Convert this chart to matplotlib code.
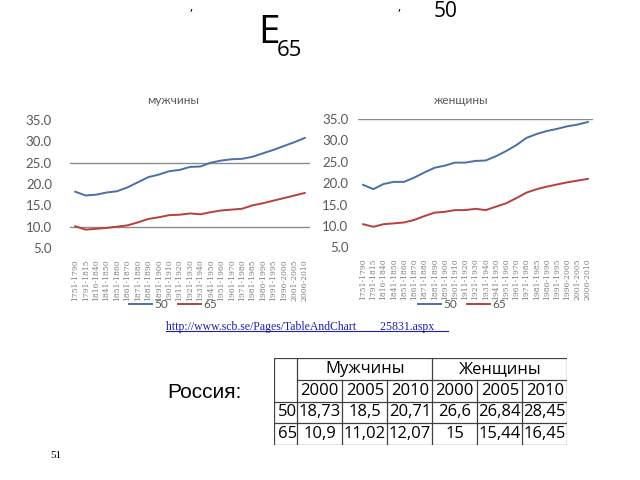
import matplotlib
matplotlib.use('Agg')
import matplotlib.pyplot as plt
from matplotlib.lines import Line2D

plt.rcParams['font.family'] = ['Lato', 'Open Sans', 'DejaVu Sans']

periods = ['1751-1790', '1791-1815', '1816-1840', '1841-1850', '1851-1860',
           '1861-1870', '1871-1880', '1881-1890', '1891-1900', '1901-1910',
           '1911-1920', '1921-1930', '1931-1940', '1941-1950', '1951-1960',
           '1961-1970', '1971-1980', '1981-1985', '1986-1990', '1991-1995',
           '1996-2000', '2001-2005', '2006-2010']

men_50 = [18.2, 17.3, 17.5, 18.0, 18.3, 19.2, 20.4, 21.6, 22.2, 23.0, 23.3, 24.0,
          24.1, 25.0, 25.5, 25.8, 25.9, 26.4, 27.2, 28.0, 28.9, 29.8, 30.8]
men_65 = [10.1, 9.3, 9.5, 9.7, 10.0, 10.3, 11.0, 11.8, 12.2, 12.7, 12.8, 13.1,
          12.9, 13.4, 13.8, 14.0, 14.2, 15.0, 15.5, 16.1, 16.7, 17.3, 17.9]
women_50 = [19.6, 18.6, 19.8, 20.3, 20.3, 21.3, 22.5, 23.6, 24.1, 24.8, 24.8, 25.2,
            25.3, 26.3, 27.5, 28.9, 30.6, 31.5, 32.2, 32.7, 33.3, 33.7, 34.3]
women_65 = [10.4, 9.8, 10.4, 10.6, 10.8, 11.4, 12.3, 13.1, 13.3, 13.7, 13.7, 14.0,
            13.7, 14.5, 15.3, 16.5, 17.8, 18.6, 19.2, 19.7, 20.2, 20.6, 21.0]

# Russia table
ru_groups = ['Мужчины', 'Женщины']
ru_years = ['2000', '2005', '2010', '2000', '2005', '2010']
ru_ages = ['50', '65']
ru_vals = [['18,73', '18,5', '20,71', '26,6', '26,84', '28,45'],
           ['10,9', '11,02', '12,07', '15', '15,44', '16,45']]

url = 'http://www.scb.se/Pages/TableAndChart        25831.aspx'

W, H = 640, 480
BLUE = '#4A6FA8'
RED = '#B5403F'
GRAY = '#595959'


def fx(x):
    return x / W


def fy(y):
    return 1 - y / H


fig = plt.figure(figsize=(6.4, 4.8), dpi=100)

# title fragments (the first title line is cut off in the slide)
fig.text(fx(258), fy(43), 'E', fontsize=28, family='Open Sans', va='baseline')
fig.text(fx(277), fy(56), '65', fontsize=16, family='Open Sans', va='baseline')
fig.text(fx(434), fy(1), '50', fontsize=15, family='Open Sans', va='top')
fig.text(fx(189), fy(0), ',', fontsize=9, family='Open Sans', va='top')
fig.text(fx(397), fy(0), ',', fontsize=9, family='Open Sans', va='top')


def draw_chart(rect, title, title_x, s50, s65, hline_vals, pad, leg_x):
    ax = fig.add_axes(rect)
    x = list(range(len(periods)))
    ax.plot(x, s50, color=BLUE, lw=1.4, label='50')
    ax.plot(x, s65, color=RED, lw=1.4, label='65')
    for v in hline_vals:
        ax.axhline(v, color='#8C8C8C', lw=1.0, zorder=0)
    ax.set_xlim(-0.5, len(periods) - 0.5)
    ax.set_ylim(5, 35)
    ax.set_yticks([5, 10, 15, 20, 25, 30, 35])
    ax.set_yticklabels(['%.1f' % v for v in [5, 10, 15, 20, 25, 30, 35]])
    ax.set_xticks(x)
    ax.set_xticklabels(periods, rotation=90, fontsize=5.5, color='#7F7F7F',
                       family='DejaVu Serif')
    ax.tick_params(axis='y', length=0, pad=pad, labelsize=9.5, labelcolor=GRAY)
    ax.tick_params(axis='x', length=0, pad=8)
    for s in ax.spines.values():
        s.set_visible(False)
    fig.text(fx(title_x), fy(100), title, fontsize=8.5, color=GRAY,
             ha='center', va='center')
    ax.legend(loc='center', bbox_to_anchor=(fx(leg_x), fy(305)),
              bbox_transform=fig.transFigure, ncol=2, frameon=False,
              fontsize=8.5, handlelength=2.0, handletextpad=0.2,
              columnspacing=0.8, labelcolor=GRAY)
    return ax


draw_chart([fx(70), fy(248), 240 / W, 128 / H], 'мужчины', 173,
           men_50, men_65, [25, 10], 13, 173)
draw_chart([fx(358), fy(247.3), 235 / W, 128.3 / H], 'женщины', 461,
           women_50, women_65, [35], 7, 462)

# source link
fig.text(fx(166), fy(330), url, fontsize=8.5, family='Liberation Serif',
         color='#1F1FB0', va='baseline')
fig.add_artist(Line2D([fx(166), fx(448)], [fy(331), fy(331)],
                      color='#1F1FB0', lw=0.8))

fig.text(fx(167), fy(392), 'Россия:', fontsize=15, family='Liberation Sans',
         va='center')
fig.text(fx(50), fy(455), '51', fontsize=8, family='Liberation Serif',
         va='center')

# table
col_w = [23, 45, 45, 45, 45, 45, 45]
row_h = [21.7, 21.7, 21.7, 21.7]
tw, th = sum(col_w), sum(row_h)
tax = fig.add_axes([fx(274.3), fy(445), tw / W, th / H])
tax.set_xlim(0, tw)
tax.set_ylim(th, 0)
tax.axis('off')
xs = [0]
for w in col_w:
    xs.append(xs[-1] + w)
ys = [0]
for h in row_h:
    ys.append(ys[-1] + h)
lk = dict(color='#404040', lw=0.9)
for i, y in enumerate(ys):
    x0 = xs[1] if i == 1 else 0
    tax.plot([x0, tw], [y, y], **lk)
for j, x in enumerate(xs):
    y0 = ys[1] if j in (2, 3, 5, 6) else 0
    tax.plot([x, x], [y0, th], **lk)

tfont = dict(fontsize=12, family='Open Sans', va='center')
tax.text((xs[1] + xs[4]) / 2, ys[0] + row_h[0] / 2, ru_groups[0], ha='center', **tfont)
tax.text((xs[4] + xs[7]) / 2, ys[0] + row_h[0] / 2, ru_groups[1], ha='center', **tfont)
for j, yr in enumerate(ru_years):
    tax.text((xs[j + 1] + xs[j + 2]) / 2, ys[1] + row_h[1] / 2, yr, ha='center', **tfont)
for i, age in enumerate(ru_ages):
    yc = ys[i + 2] + row_h[i + 2] / 2
    tax.text(xs[1] - 0.5, yc, age, ha='right', **tfont)
    for j, v in enumerate(ru_vals[i]):
        tax.text((xs[j + 1] + xs[j + 2]) / 2, yc, v, ha='center', **tfont)

fig.savefig('out.png', dpi=100)
